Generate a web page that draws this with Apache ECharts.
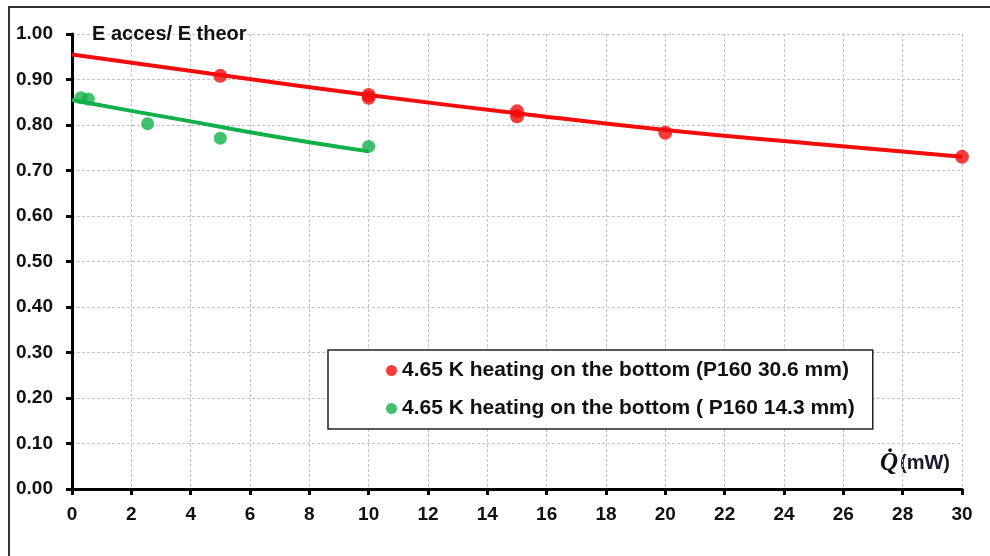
<!DOCTYPE html>
<html>
<head>
<meta charset="utf-8">
<title>E acces / E theor</title>
<script src="https://cdn.jsdelivr.net/npm/echarts@6/dist/echarts.min.js"></script>
<style>
  html, body { margin: 0; padding: 0; background: #fff; }
  #chart { width: 990px; height: 556px; }
</style>
</head>
<body>
<div id="chart"></div>
<script>
// Measured points (heat load in mW, efficiency ratio)
const redName = '4.65 K heating on the bottom (P160 30.6 mm)';
const redX = [5, 10, 10, 15, 15, 20, 30];
const redY = [0.908, 0.866, 0.860, 0.830, 0.819, 0.783, 0.730];

const greenName = '4.65 K heating on the bottom ( P160 14.3 mm)';
const greenX = [0.3, 0.55, 2.55, 5, 10];
const greenY = [0.860, 0.857, 0.803, 0.771, 0.753];

// Fitted trend curves
const redTrendX = [0, 5, 10, 15, 20, 25, 30];
const redTrendY = [0.955, 0.910, 0.866, 0.826, 0.789, 0.759, 0.730];

const greenTrendX = [0, 2, 4, 6, 8, 10];
const greenTrendY = [0.855, 0.831, 0.808, 0.784, 0.762, 0.742];

const xMin = 0, xMax = 30, xStep = 2;
const yMin = 0, yMax = 1, yStep = 0.1;

const RED = '#f20d0d';
const GREEN = '#12b04a';
const FONT = '"Liberation Sans", Arial, sans-serif';

const pairs = (xs, ys) => xs.map((x, i) => [x, ys[i]]);

const chart = echarts.init(document.getElementById('chart'), null, { renderer: 'canvas' });

chart.setOption({
  animation: false,
  backgroundColor: '#fff',
  grid: { left: 72, right: 28, top: 34, bottom: 67, containLabel: false },
  graphic: [
    {
      type: 'rect',
      shape: { x: 9, y: 7, width: 1100, height: 700 },
      style: { fill: 'none', stroke: '#333', lineWidth: 2 },
      silent: true, z: -1
    },
    {
      type: 'text',
      left: 880, top: 451,
      style: {
        text: '{q|Q\u0307}{u|(mW)}',
        rich: {
          q: { fontFamily: '"Liberation Serif", "DejaVu Serif", serif', fontStyle: 'italic', fontWeight: 'bold', fontSize: 25, fill: '#111' },
          u: { fontFamily: FONT, fontWeight: 'bold', fontSize: 20, fill: '#1a1a2e', padding: [0, 0, 0, 2] }
        }
      }
    }
  ],
  legend: {
    orient: 'vertical',
    left: 328, top: 350,
    padding: [10, 18, 10, 58],
    itemGap: 17,
    itemWidth: 11, itemHeight: 11,
    icon: 'circle',
    borderColor: '#222', borderWidth: 1.5,
    backgroundColor: '#fff',
    textStyle: { fontFamily: FONT, fontWeight: 'bold', fontSize: 21, color: '#111', lineHeight: 21 },
    data: [redName, greenName]
  },
  xAxis: {
    type: 'value',
    min: xMin, max: xMax, interval: xStep,
    axisLine: { onZero: false, lineStyle: { color: '#000', width: 3 } },
    axisTick: { show: true, length: 6, lineStyle: { color: '#000', width: 3 } },
    axisLabel: { margin: 16, fontFamily: FONT, fontWeight: 'bold', fontSize: 19, color: '#111' },
    splitLine: { show: true, lineStyle: { color: '#c4c4c4', type: [3, 2], width: 1 } }
  },
  yAxis: {
    type: 'value',
    min: yMin, max: yMax, interval: yStep,
    name: 'E acces/ E theor',
    nameLocation: 'end',
    nameGap: 0,
    nameTextStyle: { align: 'left', verticalAlign: 'middle', padding: [0, 0, 0, 20], fontFamily: FONT, fontWeight: 'bold', fontSize: 20, color: '#111' },
    axisLine: { show: true, lineStyle: { color: '#000', width: 3 } },
    axisTick: { show: true, length: 6, lineStyle: { color: '#000', width: 3 } },
    axisLabel: { margin: 19, fontFamily: FONT, fontWeight: 'bold', fontSize: 19, color: '#111', formatter: v => v.toFixed(2) },
    splitLine: { show: true, lineStyle: { color: '#c4c4c4', type: [3, 2], width: 1 } }
  },
  series: [
    {
      name: 'redTrend', type: 'line', smooth: true, showSymbol: false, silent: true,
      data: pairs(redTrendX, redTrendY),
      lineStyle: { color: RED, width: 4 }, z: 2
    },
    {
      name: 'greenTrend', type: 'line', smooth: true, showSymbol: false, silent: true,
      data: pairs(greenTrendX, greenTrendY),
      lineStyle: { color: GREEN, width: 4 }, z: 2
    },
    {
      name: redName, type: 'scatter', symbolSize: 14,
      data: pairs(redX, redY),
      itemStyle: { color: RED }, z: 3
    },
    {
      name: greenName, type: 'scatter', symbolSize: 13,
      data: pairs(greenX, greenY),
      itemStyle: { color: GREEN }, z: 3
    }
  ]
});
</script>
</body>
</html>
